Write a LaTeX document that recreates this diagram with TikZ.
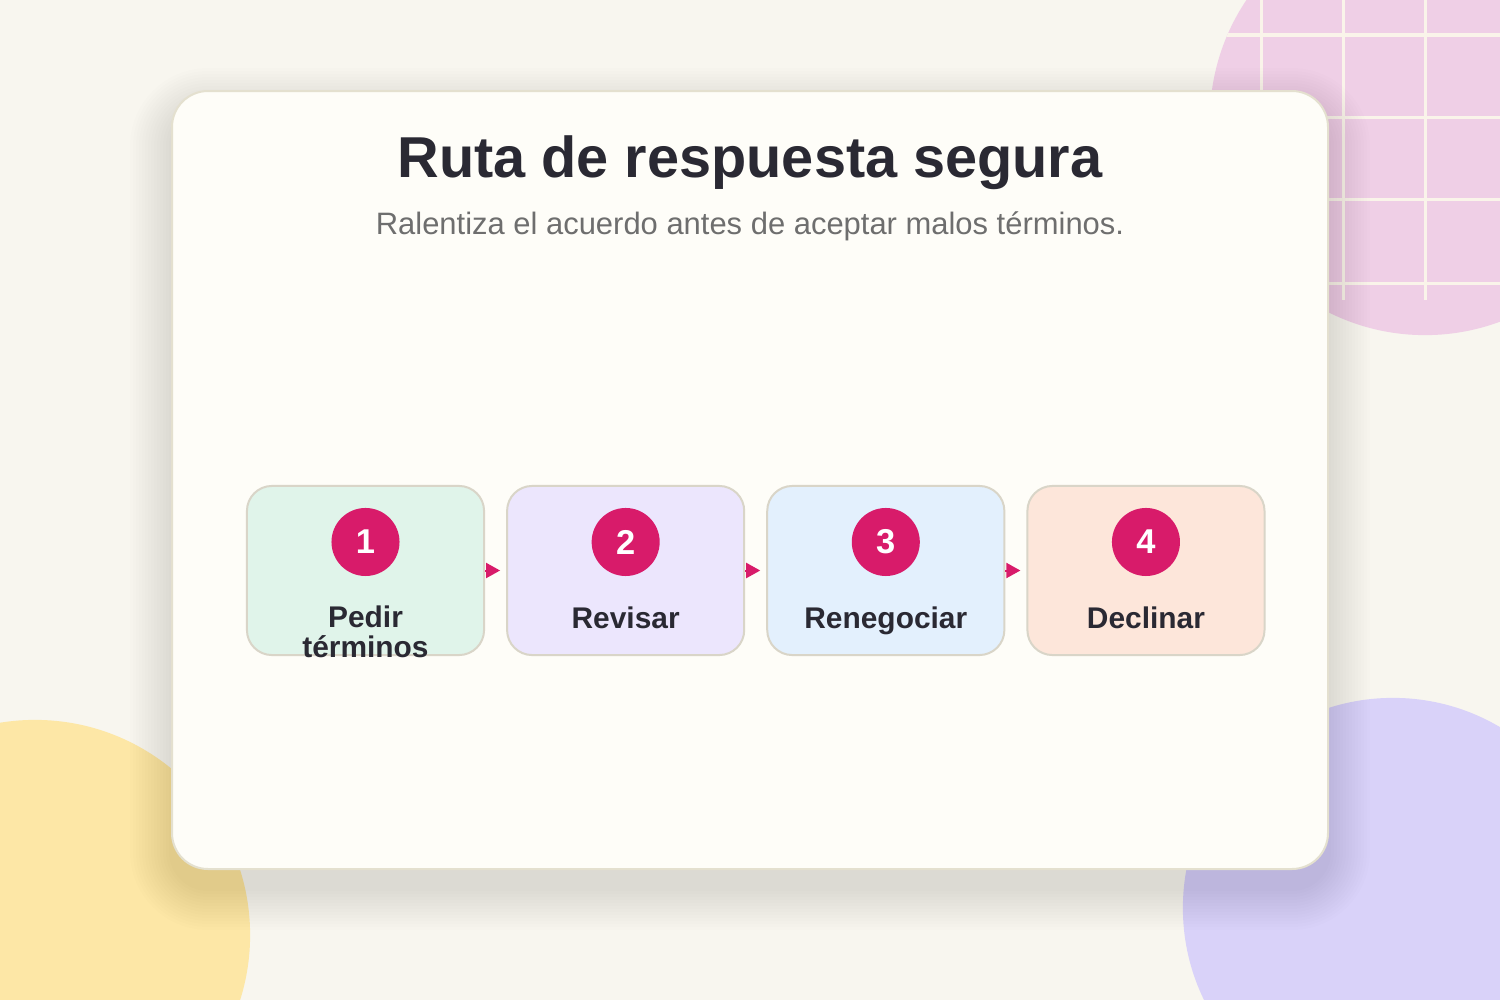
\documentclass[tikz,border=0pt]{standalone}
\usepackage{fontspec}
\setmainfont{Liberation Sans}
\usepackage{xcolor}
\usetikzlibrary{positioning,arrows.meta}
\definecolor{paper}{HTML}{F8F6EF}
\definecolor{cardfill}{HTML}{FEFDF8}
\definecolor{cardline}{HTML}{E4E0CF}
\definecolor{boxline}{HTML}{D9D5C8}
\definecolor{ink}{HTML}{2A2933}
\definecolor{muted}{HTML}{6E6E6E}
\definecolor{accent}{HTML}{D81B6A}
\definecolor{blobpink}{HTML}{EFCFE6}
\definecolor{blobsun}{HTML}{FDE7A6}
\definecolor{blobiris}{HTML}{D9D2F9}
\definecolor{gridcream}{HTML}{FAF4EA}
\definecolor{mint}{HTML}{E0F4EA}
\definecolor{lilac}{HTML}{ECE6FD}
\definecolor{sky}{HTML}{E3F0FD}
\definecolor{peach}{HTML}{FDE6DA}

\begin{document}
\begin{tikzpicture}[x=0.01cm, y=-0.01cm, node distance=0.21cm,
    stepbox/.style={draw=boxline, line width=0.02cm, rounded corners=0.25cm,
      minimum width=2.37cm, minimum height=1.69cm, inner sep=0pt},
    badge/.style={circle, fill=accent, text=white, inner sep=0pt,
      minimum size=0.68cm, font=\bfseries\fontsize{9.8}{11}\selectfont},
    caption/.style={anchor=base, align=center, inner sep=0pt, text=ink,
      font=\bfseries\fontsize{8.5}{8.3}\selectfont},
    flow/.style={-{Triangle[length=0.14cm,width=0.15cm]}, draw=accent,
      line width=0.02cm, shorten >=0.06cm}]
  \useasboundingbox (0,0) rectangle (1500,1000);
  \fill[paper] (0,0) rectangle (1500,1000);

  \begin{scope}
    \clip (0,0) rectangle (1500,1000);
    \fill[blobsun] (35,935) circle (0.215cm*10);
    \fill[blobiris] (1393,908) circle (0.21cm*10);
    \fill[blobpink] (1425,120) circle (0.215cm*10);
    \begin{scope}
      \clip (1425,120) circle (0.215cm*10);
      \foreach \gx in {1261,1343,1425}
        \draw[gridcream, line width=0.03cm] (\gx,-10) -- (\gx,300);
      \foreach \gy in {35,117,199,283}
        \draw[gridcream, line width=0.03cm] (1150,\gy) -- (1510,\gy);
    \end{scope}
  \end{scope}

  \foreach \s in {1,...,14}
    \fill[black, opacity=0.007, rounded corners=0.36cm+\s*0.03cm]
      (172-\s*3,110-\s*3) rectangle (1328+\s*3,888+\s*3);
  \draw[fill=cardfill, draw=cardline, line width=0.02cm, rounded corners=0.36cm]
    (172,91) rectangle (1328,869);

  \node[font=\bfseries\fontsize{16.4}{18}\selectfont, text=ink, anchor=base]
    (title) at (750,177) {Ruta de respuesta segura};
  \node[font=\fontsize{8.8}{10}\selectfont, text=muted, anchor=base]
    (subtitle) at (750,234) {Ralentiza el acuerdo antes de aceptar malos términos.};

  \node[stepbox, fill=mint]  (b1) at (365.5,570.5) {};
  \node[stepbox, fill=lilac] (b2) [right=of b1] {};
  \node[stepbox, fill=sky]   (b3) [right=of b2] {};
  \node[stepbox, fill=peach] (b4) [right=of b3] {};

  \node[badge] (n1) at ([yshift=-0.57cm]b1.north) {1};
  \node[badge] (n2) at ([yshift=-0.57cm]b2.north) {2};
  \node[badge] (n3) at ([yshift=-0.57cm]b3.north) {3};
  \node[badge] (n4) at ([yshift=-0.57cm]b4.north) {4};

  \node[caption] (t1) at ([yshift=-0.01cm]b1.south) {Pedir\\términos};
  \node[caption] (t2) at ([yshift=0.28cm]b2.south) {Revisar};
  \node[caption] (t3) at ([yshift=0.28cm]b3.south) {Renegociar};
  \node[caption] (t4) at ([yshift=0.28cm]b4.south) {Declinar};

  \path (b1) edge[flow] (b2)
        (b2) edge[flow] (b3)
        (b3) edge[flow] (b4);
\end{tikzpicture}
\end{document}
